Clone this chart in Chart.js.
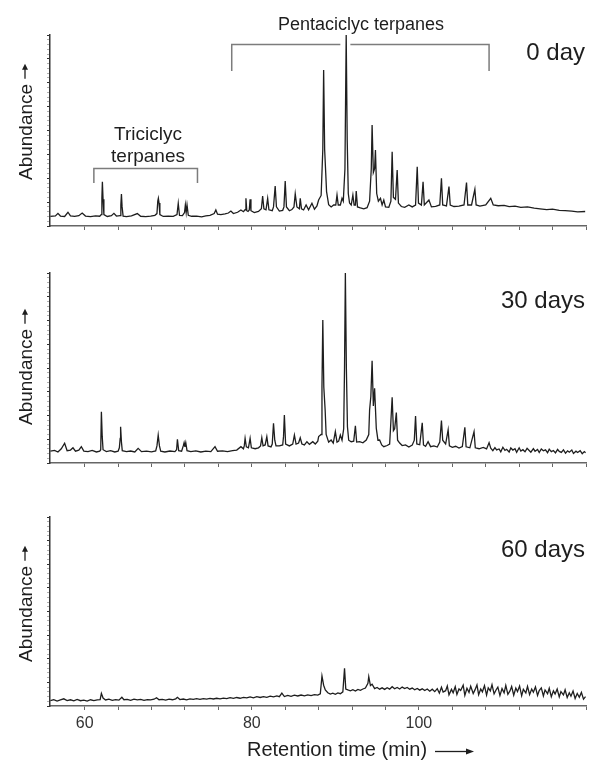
<!DOCTYPE html>
<html>
<head>
<meta charset="utf-8">
<script src="https://cdn.jsdelivr.net/npm/chart.js@4.4.0/dist/chart.umd.min.js"></script>
<style>
html,body{margin:0;padding:0;background:#fff;}
#wrap{position:relative;width:592px;height:763px;}
#wrap canvas{position:absolute;left:0;}
</style>
</head>
<body>
<div id="wrap">
  <canvas id="c0" width="592" height="240" style="top:0"></canvas>
  <canvas id="c30" width="592" height="240" style="top:240px"></canvas>
  <canvas id="c60" width="592" height="283" style="top:480px"></canvas>
</div>
<script>
// GC-MS terpane chromatograms (m/z 191) after 0, 30 and 60 days
const X_MIN = 55.85, X_MAX = 120;
const X_TICKS = [60,64,68,72,76,80,84,88,92,96,100,104,108,112,116,120];
const X_LABELS = [60,80,100];
const Y_MAX = 100;
const Y_MAJOR = 12.5, Y_MINOR = 2.5;
const PANEL_LABELS = ["0 day","30 days","60 days"];
const Y_TITLE = "Abundance";
const X_TITLE = "Retention time (min)";
const TRI_LABEL = ["Triciclyc","terpanes"];
const PENTA_LABEL = "Pentaciclyc terpanes";
const TRI_RANGE = [61.1, 73.5];     // retention time span of bracket
const PENTA_RANGE = [77.6, 108.4];

// [retention time (min), relative abundance]
const DAY0 = [[55.9,5.0],[56.5,5.3],[56.8,6.6],[57.1,5.2],[57.6,5.0],[58.0,7.2],[58.3,5.3],[58.8,5.0],[59.3,5.4],[59.7,6.8],[60.1,5.2],[60.7,4.9],[61.3,5.3],[61.8,5.1],
[61.98,6],[62.06,14.5],[62.12,23.2],[62.2,14],[62.3,6],[62.7,5.0],[63.2,5.4],[63.5,6.6],[63.8,5.2],
[64.25,5.4],[64.33,11],[64.4,16.8],[64.48,10],[64.6,5.2],[65.0,4.9],[65.6,5.3],[66.3,6.5],[66.7,5.1],[67.3,4.9],[67.9,5.2],[68.4,5.6],
[68.65,6.5],[68.75,13],[68.82,14.5],[68.9,12],[69.0,6],[69.4,5.0],[70.0,5.2],[70.6,5.0],[71.05,6],[71.2,11.9],[71.35,5.5],[71.7,5.4],
[71.95,7],[72.05,11],[72.15,7],[72.25,11],[72.4,5.6],[72.8,5.1],[73.4,5.2],[74.0,4.8],[74.5,5.3],[75.0,5.6],[75.5,6.5],[75.7,8.4],[75.9,6.2],
[76.3,6.0],[76.8,6.4],[77.2,6.8],[77.5,7.8],[77.8,6.5],[78.3,7.2],[78.7,8.4],[79.0,7.5],[79.2,8.5],[79.3,14.5],[79.4,8],[79.55,7.6],[79.7,8.4],
[79.8,14],[79.9,8],[80.3,7.0],[80.8,7.6],[81.15,9],[81.3,15.7],[81.45,9],[81.7,8.5],[81.9,14.5],[82.05,8.5],[82.45,8],[82.6,10],[82.8,20.9],
[82.95,10],[83.3,7.8],[83.7,8.2],[83.85,10],[84.0,23.6],[84.15,10],[84.5,8],[84.8,8.6],[85.05,10],[85.2,16.8],[85.4,10],[85.7,9],[85.8,14.5],
[85.95,9],[86.2,8.4],[86.5,11],[86.8,8.5],[87.2,11.9],[87.5,8.8],[87.8,10.5],[88.0,13.6],[88.3,16],[88.5,40],[88.6,81.7],[88.72,40],
[88.85,27.7],[88.95,18],[89.2,11.2],[89.5,10],[89.8,11],[90.05,11],[90.2,16.2],[90.35,11],[90.6,11],[90.8,14.5],[90.95,13],[91.15,30],
[91.3,100],[91.42,45],[91.55,17],[91.7,12],[91.9,11],[92.1,16.2],[92.25,11],[92.4,11],[92.5,18.3],[92.65,10],[93.0,9.5],[93.4,9.0],
[93.8,9.6],[94.1,13],[94.3,30],[94.4,52.9],[94.55,28],[94.7,30],[94.8,39.8],[94.95,17],[95.15,13],[95.4,14.5],[95.6,11],[95.8,13.6],
[96.0,10],[96.4,9.8],[96.65,13],[96.8,38.9],[96.95,15],[97.2,14],[97.4,29.3],[97.55,12],[97.9,10.2],[98.3,9.8],[98.8,11],[99.2,10],
[99.6,11],[99.8,31],[99.95,12],[100.3,11],[100.5,23.2],[100.65,11],[101.2,13.6],[101.5,10],[102.0,10.3],[102.5,11],[102.7,25],[102.85,11],
[103.3,10.5],[103.6,20.6],[103.75,11],[104.2,10.2],[104.8,10.4],[105.4,11],[105.7,22.7],[105.85,11],[106.3,11],[106.7,19.2],[106.85,11],
[107.3,10.4],[108.0,11],[108.6,14.5],[108.9,11],[109.5,10.6],[110.2,10.8],[110.8,10.1],[111.5,10.4],[112.2,9.8],[113,10],[113.8,9.4],
[114.5,9.0],[115.3,8.6],[116,8.8],[116.8,8.2],[117.5,8.0],[118.3,7.8],[119,7.4],[119.9,7.6]];

const DAY30 = [[55.9,6.2],[56.4,6.6],[56.8,5.8],[57.2,7.5],[57.6,10.4],[57.9,6.5],[58.3,6.8],[58.6,8.0],[58.9,6.2],[59.3,6.8],[59.6,8.6],[59.9,6.3],
[60.4,6.0],[60.9,6.6],[61.4,5.8],[61.8,6.2],[61.92,7],[62.0,27],[62.1,14],[62.2,7],[62.6,6.0],[63.1,6.5],[63.6,5.8],[64.0,6.2],[64.15,8],
[64.25,13],[64.3,19.1],[64.4,11],[64.5,6.5],[65.0,6.0],[65.5,6.3],[66.0,5.8],[66.4,7.7],[66.8,6.0],[67.4,6.2],[68.0,5.9],[68.5,6.4],[68.65,9],
[68.8,14.7],[68.95,9],[69.1,6.2],[69.6,5.8],[70.2,6.3],[70.8,6.0],[71.0,7],[71.1,12.5],[71.25,6.5],[71.6,6.2],[71.8,9],[71.9,10.7],[72.0,8.5],
[72.1,10.7],[72.25,6.5],[72.7,6.0],[73.3,6.4],[73.9,5.8],[74.5,6.2],[75.1,6.0],[75.6,8.6],[75.9,6.2],[76.5,6.4],[77.1,6.0],[77.7,6.5],[78.2,6.8],
[78.7,8.6],[79.0,7.5],[79.1,9],[79.2,13],[79.35,8.5],[79.6,8],[79.8,13],[79.95,8],[80.4,7.5],[80.8,8.0],[81.05,9],[81.2,13.3],[81.35,9],
[81.6,9.5],[81.8,13.9],[81.95,9],[82.3,8.5],[82.45,10],[82.6,20.9],[82.75,12],[82.9,9],[83.3,9],[83.7,9.5],[83.8,14],[83.9,25.3],[84.05,10],
[84.5,9],[84.9,10],[85.1,14.7],[85.3,10],[85.6,10.5],[85.8,13.3],[86.0,10],[86.3,9.5],[86.6,11.2],[86.9,9.8],[87.3,11.2],[87.6,10],[87.9,11.5],
[88.0,13.9],[88.3,15],[88.4,40],[88.5,75.3],[88.62,40],[88.78,27.9],[88.9,15],[89.2,11],[89.5,12.1],[89.75,10.5],[90.0,16.5],[90.2,11],
[90.4,11.5],[90.6,14.7],[90.8,12],[91.0,18],[91.1,50],[91.2,100],[91.32,50],[91.45,19.1],[91.6,12],[91.9,11.2],[92.2,11.5],[92.4,19.6],
[92.55,11],[92.9,11.2],[93.3,10.6],[93.7,12.1],[94.0,15],[94.1,27.9],[94.25,35],[94.4,53.8],[94.55,30],[94.7,39.3],[94.9,18.3],[95.1,12],
[95.3,12.1],[95.55,9.5],[95.8,8.6],[96.2,9.2],[96.5,10],[96.65,22],[96.8,34.6],[96.95,17],[97.1,18],[97.3,26.5],[97.45,12],[97.7,10.5],
[98.0,9.2],[98.4,9.5],[98.8,8.4],[99.2,9.4],[99.45,12],[99.6,24.7],[99.75,10],[100.1,9.6],[100.4,21.2],[100.55,9.5],[100.8,8.8],[101.1,11.2],
[101.4,8.6],[101.8,9.0],[102.2,8.4],[102.5,11],[102.7,22.3],[102.85,12],[103.2,10],[103.5,17.4],[103.65,9],[104.0,8.2],[104.4,8.8],[104.8,7.9],
[105.2,8.6],[105.5,18.8],[105.65,8.5],[106.1,8.0],[106.6,16.5],[106.75,8],[107.2,7.5],[107.7,8.2],[108.1,7.4],[108.4,10.7],[108.6,7.8],
[108.85,6.5],[109.1,8.1],[109.3,6.9],[109.6,7.4],[109.8,5.9],[110.05,8.3],[110.3,6.6],[110.5,7.2],[110.8,5.8],[111.0,7.9],[111.25,6.8],
[111.5,7.5],[111.7,5.6],[112.0,8.0],[112.2,6.3],[112.45,7.0],[112.7,5.9],[112.95,7.7],[113.2,6.6],[113.4,5.7],[113.7,7.6],[113.9,6.2],
[114.2,7.1],[114.4,5.5],[114.65,7.4],[114.9,6.4],[115.15,6.9],[115.4,5.4],[115.6,7.3],[115.85,6.0],[116.1,6.6],[116.35,5.3],[116.6,7.2],
[116.8,6.1],[117.05,5.6],[117.3,6.9],[117.55,5.2],[117.8,6.4],[118.0,5.7],[118.3,6.8],[118.5,5.0],[118.8,6.2],[119.0,5.5],[119.3,6.5],
[119.55,4.9],[119.8,6.0],[119.95,5.4]];

const DAY60 = [[55.9,2.8],[56.3,3.4],[56.7,2.6],[57.1,3.2],[57.5,3.8],[57.9,2.9],[58.3,3.3],[58.7,2.7],[59.1,3.5],[59.5,2.8],[59.9,3.1],[60.3,2.6],
[60.7,3.3],[61.1,2.9],[61.5,3.2],[61.85,3.4],[62.0,6.7],[62.2,4.2],[62.5,3.2],[62.9,3.6],[63.3,3.0],[63.7,3.4],[64.1,3.1],[64.45,4.6],[64.7,3.3],
[65.1,3.5],[65.5,3.0],[65.9,3.6],[66.3,3.2],[66.7,3.5],[67.1,3.0],[67.5,3.4],[67.9,3.2],[68.3,3.6],[68.6,4.4],[68.9,3.3],[69.3,3.5],[69.7,3.1],
[70.1,3.6],[70.5,3.3],[70.9,3.8],[71.1,4.6],[71.4,3.4],[71.8,3.7],[72.2,3.3],[72.6,3.8],[73.0,3.5],[73.4,3.9],[73.8,3.5],[74.2,3.9],[74.6,3.6],
[75.0,4.0],[75.4,3.7],[75.8,4.1],[76.2,3.8],[76.6,4.2],[77.0,3.9],[77.4,4.4],[77.8,4.0],[78.2,4.5],[78.6,4.1],[79.0,4.6],[79.4,4.3],[79.8,4.8],
[80.2,4.3],[80.6,4.9],[81.0,4.5],[81.4,5.0],[81.8,4.6],[82.2,5.2],[82.6,4.8],[83.0,5.3],[83.3,4.9],[83.6,6.8],[83.9,5.0],[84.3,5.6],[84.7,5.1],
[85.1,5.7],[85.5,5.3],[85.9,5.8],[86.3,5.4],[86.7,5.9],[87.1,5.5],[87.5,6.0],[87.9,5.8],[88.2,6.5],[88.4,15.9],[88.6,11],[88.8,8.5],[89.1,7.0],
[89.4,6.3],[89.7,6.8],[90.0,6.2],[90.3,6.9],[90.6,6.5],[90.9,7.5],[91.1,19.9],[91.25,9],[91.5,8.5],[91.8,8.0],[92.1,8.6],[92.4,7.9],[92.7,8.8],
[93.0,8.3],[93.3,9.0],[93.6,9.5],[93.9,12],[94.0,15.5],[94.2,10.8],[94.4,11.5],[94.7,9.2],[95.0,9.8],[95.3,8.9],[95.6,9.6],[95.9,8.8],[96.2,9.7],
[96.5,8.9],[96.8,10.2],[97.1,9.1],[97.4,9.8],[97.7,9.0],[98.0,10.0],[98.3,9.2],[98.6,9.8],[98.9,8.9],[99.2,9.5],[99.5,8.6],[99.8,9.3],[100.1,8.4],
[100.4,9.1],[100.7,8.2],[101.0,9.0],[101.3,7.8],[101.6,8.9],[101.9,7.6],[102.2,9.2],[102.45,6.8],[102.7,9.9],[102.9,7.4],[103.2,8.1],[103.4,10.6],
[103.6,5.9],[103.9,8.8],[104.1,7.0],[104.35,10.2],[104.55,6.1],[104.8,9.0],[105.0,8.2],[105.3,11.0],[105.5,5.6],[105.75,9.4],[106.0,7.2],
[106.2,10.5],[106.5,6.6],[106.7,8.4],[106.95,11.2],[107.15,6.0],[107.4,9.0],[107.6,7.5],[107.85,10.8],[108.1,5.8],[108.3,9.6],[108.55,8.0],
[108.75,11.3],[109.0,6.4],[109.25,8.6],[109.45,10.0],[109.7,5.5],[109.95,9.2],[110.2,7.0],[110.4,10.9],[110.65,6.2],[110.9,8.0],[111.1,10.3],
[111.35,5.7],[111.6,9.5],[111.8,7.6],[112.05,10.6],[112.3,5.4],[112.5,8.8],[112.8,6.9],[113.0,10.4],[113.25,6.0],[113.5,9.0],[113.7,7.3],
[113.95,10.1],[114.2,5.6],[114.4,8.2],[114.65,9.6],[114.9,5.3],[115.1,8.5],[115.4,6.5],[115.6,9.4],[115.85,4.9],[116.1,8.0],[116.3,6.4],
[116.55,9.0],[116.8,4.8],[117.0,7.6],[117.3,5.9],[117.5,8.6],[117.75,4.5],[118.0,7.0],[118.2,5.2],[118.45,7.9],[118.7,4.0],[118.95,6.6],
[119.2,4.6],[119.45,7.2],[119.7,3.6],[119.95,5.0]];

const FONT = "'Liberation Sans', Arial, Helvetica, sans-serif";
const INK = "#1e1e1e";

function drawYTitle(ctx, bottom){
  ctx.save();
  ctx.translate(32, bottom);
  ctx.rotate(-Math.PI/2);
  ctx.font = "19px " + FONT;
  ctx.fillStyle = INK;
  ctx.textAlign = "left";
  ctx.textBaseline = "alphabetic";
  ctx.fillText(Y_TITLE, 0, 0);
  const w = ctx.measureText(Y_TITLE).width;
  ctx.strokeStyle = INK; ctx.lineWidth = 1.3;
  ctx.beginPath(); ctx.moveTo(w+5, -7); ctx.lineTo(w+15, -7); ctx.stroke();
  ctx.beginPath(); ctx.moveTo(w+20, -7); ctx.lineTo(w+14, -10); ctx.lineTo(w+14, -4); ctx.closePath(); ctx.fill();
  ctx.restore();
}

function drawBrackets(chart){
  const ctx = chart.ctx, xs = chart.scales.x;
  ctx.save();
  ctx.strokeStyle = "#7c7c7c"; ctx.lineWidth = 1.5;
  // triciclyc
  let a = xs.getPixelForValue(TRI_RANGE[0]), b = xs.getPixelForValue(TRI_RANGE[1]);
  ctx.beginPath();
  ctx.moveTo(a, 183); ctx.lineTo(a, 168.5); ctx.lineTo(b, 168.5); ctx.lineTo(b, 183);
  ctx.stroke();
  // pentaciclyc (broken where the tallest peak passes)
  a = xs.getPixelForValue(PENTA_RANGE[0]); b = xs.getPixelForValue(PENTA_RANGE[1]);
  const g1 = xs.getPixelForValue(90.6), g2 = xs.getPixelForValue(91.8);
  ctx.beginPath();
  ctx.moveTo(a, 71); ctx.lineTo(a, 44.5); ctx.lineTo(g1, 44.5);
  ctx.moveTo(g2, 44.5); ctx.lineTo(b, 44.5); ctx.lineTo(b, 71);
  ctx.stroke();
  ctx.fillStyle = INK;
  ctx.textAlign = "center"; ctx.textBaseline = "alphabetic";
  ctx.font = "18px " + FONT;
  ctx.fillText(PENTA_LABEL, 361, 30);
  ctx.font = "19px " + FONT;
  ctx.fillText(TRI_LABEL[0], 148, 140);
  ctx.fillText(TRI_LABEL[1], 148, 162);
  ctx.restore();
}

function drawXTitle(chart){
  const ctx = chart.ctx;
  ctx.save();
  ctx.fillStyle = INK; ctx.strokeStyle = INK;
  ctx.font = "20px " + FONT;
  ctx.textAlign = "left"; ctx.textBaseline = "alphabetic";
  ctx.fillText(X_TITLE, 247, 276);
  ctx.lineWidth = 1.3;
  ctx.beginPath(); ctx.moveTo(435, 271.5); ctx.lineTo(467, 271.5); ctx.stroke();
  ctx.beginPath(); ctx.moveTo(474, 271.5); ctx.lineTo(466, 268.5); ctx.lineTo(466, 274.5); ctx.closePath(); ctx.fill();
  ctx.restore();
}

const panelText = {
  id: "panelText",
  afterDraw(chart, args, o){
    const ctx = chart.ctx;
    drawYTitle(ctx, o.yTitleBottom);
    ctx.save();
    ctx.font = "24px " + FONT; ctx.fillStyle = INK;
    ctx.textAlign = "right"; ctx.textBaseline = "alphabetic";
    ctx.fillText(o.day, 585, o.dayBase);
    ctx.restore();
    if (o.brackets) drawBrackets(chart);
    if (o.xTitle) drawXTitle(chart);
  }
};

function makePanel(id, series, p){
  new Chart(document.getElementById(id), {
    type: "scatter",
    data: { datasets: [{
      data: series.map(([t, v]) => ({ x: t, y: v })),
      showLine: true, borderColor: INK, borderWidth: 1.3, pointRadius: 0, fill: false, tension: 0
    }]},
    options: {
      responsive: false, animation: false, events: [],
      layout: { padding: { left: 30, right: 6, top: p.padTop, bottom: 0 } },
      plugins: { legend: { display: false }, tooltip: { enabled: false }, panelText: p.text },
      scales: {
        x: {
          type: "linear", min: X_MIN, max: X_MAX,
          afterBuildTicks: s => { s.ticks = X_TICKS.map(v => ({ value: v })); },
          afterFit: s => { s.height = p.xHeight; },
          border: { color: "#666", width: 1.5 },
          grid: { drawOnChartArea: false, drawTicks: true, tickLength: 4, color: "#666" },
          ticks: { display: p.showX, autoSkip: false, maxRotation: 0, padding: 4, color: "#333",
            font: { family: FONT, size: 16 },
            callback: v => X_LABELS.includes(v) ? String(v) : "" }
        },
        y: {
          type: "linear", min: 0, max: Y_MAX,
          afterBuildTicks: s => {
            const t = [];
            for (let v = 0; v <= Y_MAX + 1e-9; v += Y_MINOR) t.push({ value: v });
            s.ticks = t;
          },
          afterFit: s => { s.width = 20; },
          border: { color: "#333", width: 1.5 },
          grid: { drawOnChartArea: false, drawTicks: true, tickLength: 3,
            color: c => (c.tick && Math.abs(c.tick.value % Y_MAJOR) < 1e-6) ? "#333" : "#b0b0b0" },
          ticks: { display: false }
        }
      }
    },
    plugins: [panelText]
  });
}

makePanel("c0", DAY0, { padTop: 35, xHeight: 14, showX: false,
  text: { day: PANEL_LABELS[0], dayBase: 60, yTitleBottom: 180, brackets: true } });
makePanel("c30", DAY30, { padTop: 33, xHeight: 17, showX: false,
  text: { day: PANEL_LABELS[1], dayBase: 68, yTitleBottom: 185 } });
makePanel("c60", DAY60, { padTop: 37, xHeight: 57, showX: true,
  text: { day: PANEL_LABELS[2], dayBase: 77, yTitleBottom: 182, xTitle: true } });
</script>
</body>
</html>
